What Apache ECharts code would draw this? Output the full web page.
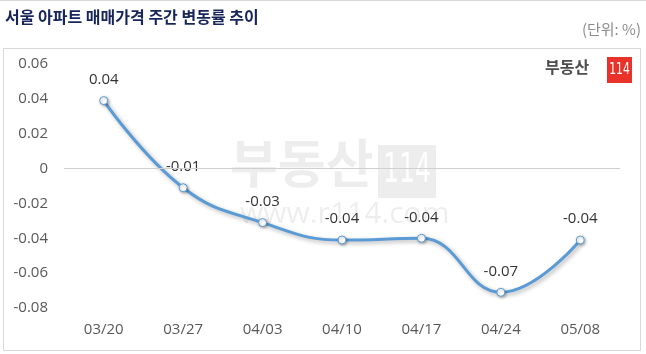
<!DOCTYPE html>
<html>
<head>
<meta charset="utf-8">
<script src="https://cdn.jsdelivr.net/npm/echarts@6/dist/echarts.min.js"></script>
<style>
  html, body { margin: 0; padding: 0; background: #fff; }
  #chart { width: 646px; height: 354px; }
</style>
</head>
<body>
<div id="chart"></div>
<script>
  // 주간 변동률 (%)
  var weeks = ['03/20', '03/27', '04/03', '04/10', '04/17', '04/24', '05/08'];
  var rates = [0.039, -0.011, -0.031, -0.041, -0.040, -0.071, -0.041];
  var yTicks = [-0.08, -0.06, -0.04, -0.02, 0, 0.02, 0.04, 0.06];

  var font = '"Noto Sans CJK KR", "Noto Sans", sans-serif';
  var numFont = '"Open Sans", "Noto Sans", sans-serif';
  var narrow = '"Liberation Sans Narrow", "DejaVu Sans Condensed", sans-serif';
  var chart = echarts.init(document.getElementById('chart'));

  var option = {
    animation: false,
    backgroundColor: '#fff',
    textStyle: { fontFamily: numFont },
    grid: { left: 64, right: 26, top: 64, bottom: 46 },
    graphic: [
      // 상단 라인, 테두리
      { type: 'line', shape: { x1: 0, y1: 0.5, x2: 646, y2: 0.5 }, style: { stroke: '#d9d9d9', lineWidth: 1 } },
      { type: 'rect', shape: { x: 3.5, y: 48.5, width: 637, height: 302 }, style: { fill: 'none', stroke: '#d9d9d9', lineWidth: 1 } },
      { type: 'text', left: 5, top: 9, style: { text: '서울 아파트 매매가격 주간 변동률 추이', fill: '#17255a', font: 'bold 16px ' + font } },
      { type: 'text', right: 5, top: 22, style: { text: '(단위: %)', fill: '#8c8c8c', font: '15px ' + font } },
      // 로고
      { type: 'text', left: 545, top: 59, style: { text: '부동산', fill: '#4d4d4d', font: 'bold 16px ' + font } },
      { type: 'rect', shape: { x: 607, y: 57, width: 25, height: 26 }, style: { fill: '#e8322a' } },
      { type: 'text', x: 619.5, y: 70, scaleX: 0.8, style: { text: '114', fill: '#fff', font: '15px ' + narrow, align: 'center', verticalAlign: 'middle' } },
      // 워터마크
      { type: 'text', left: 230, top: 137, z: 0, style: { text: '부동산', fill: 'rgba(0,0,0,0.07)', font: 'bold 52px ' + font } },
      { type: 'rect', z: 0, shape: { x: 378, y: 145, width: 58, height: 53 }, style: { fill: 'rgba(0,0,0,0.07)' } },
      { type: 'text', z: 0, x: 407, y: 172, scaleX: 0.7, style: { text: '114', fill: 'rgba(255,255,255,0.9)', font: '40px ' + narrow, align: 'center', verticalAlign: 'middle' } },
      { type: 'text', left: 240, top: 199, z: 0, style: { text: 'www.r114.com', fill: 'rgba(0,0,0,0.07)', font: '30px ' + numFont } }
    ],
    xAxis: {
      type: 'category',
      data: weeks,
      boundaryGap: true,
      axisLine: { show: false },
      axisTick: { show: false },
      axisLabel: { color: '#595959', fontSize: 15, margin: 14, fontFamily: numFont }
    },
    yAxis: {
      type: 'value',
      min: yTicks[0],
      max: yTicks[yTicks.length - 1],
      interval: 0.02,
      axisLine: { show: false },
      axisTick: { show: false },
      splitLine: { show: false },
      axisLabel: {
        color: '#595959', fontSize: 15, margin: 16, fontFamily: numFont,
        formatter: function (v) { return Math.abs(v) < 1e-9 ? '0' : v.toFixed(2); }
      }
    },
    series: [{
      type: 'line',
      data: rates,
      smooth: 0.45,
      symbol: 'circle',
      symbolSize: 8,
      lineStyle: {
        color: '#5b9bd5', width: 3,
        shadowColor: 'rgba(0,0,0,0.3)', shadowBlur: 4, shadowOffsetX: 2, shadowOffsetY: 2
      },
      itemStyle: {
        color: '#fff', borderColor: '#5b9bd5', borderWidth: 1,
        shadowColor: 'rgba(0,0,0,0.3)', shadowBlur: 3, shadowOffsetX: 1, shadowOffsetY: 1
      },
      label: {
        show: true, position: 'top', distance: 9,
        color: '#333', fontSize: 15, fontFamily: numFont,
        formatter: function (p) { return p.value.toFixed(2); }
      },
      labelLayout: { hideOverlap: false },
      markLine: {
        silent: true, symbol: 'none', label: { show: false },
        lineStyle: { color: '#d0d0d0', type: 'solid', width: 1 },
        data: [{ yAxis: 0 }]
      },
      z: 3
    }]
  };

  chart.setOption(option);
</script>
</body>
</html>
